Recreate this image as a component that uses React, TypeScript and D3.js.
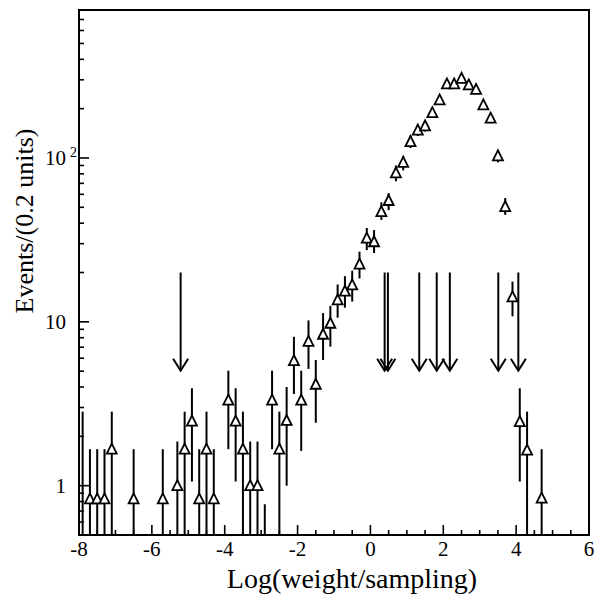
import React from 'react';
import * as d3 from 'd3';

// Bin centers (0.2 unit bins), values, and error-bar ends (data units)
const binCenters = [
  -7.9, -7.7, -7.5, -7.3, -7.1, -6.5, -5.7, -5.3, -5.1, -4.9, -4.7, -4.5, -4.3,
  -3.9, -3.7, -3.5, -3.3, -3.1, -2.9, -2.7, -2.5, -2.3, -2.1, -1.9, -1.7, -1.5,
  -1.3, -1.1, -0.9, -0.7, -0.5, -0.3, -0.1, 0.1, 0.3, 0.5, 0.7, 0.9, 1.1, 1.3,
  1.5, 1.7, 1.9, 2.1, 2.3, 2.5, 2.7, 2.9, 3.1, 3.3, 3.5, 3.7, 3.9, 4.1, 4.3, 4.7,
];
const binValues = [
  0.3, 0.83, 0.83, 0.83, 1.67, 0.83, 0.83, 1.0, 1.67, 2.48, 0.83, 1.67, 0.83,
  3.33, 2.48, 1.67, 1.0, 1.0, 0.3, 3.33, 1.67, 2.5, 5.8, 3.33, 7.6, 4.16,
  8.4, 9.8, 13.6, 15.4, 16.8, 22.5, 32.4, 30.8, 47, 55, 81, 94, 126, 148,
  157, 189, 226, 283, 283, 306, 279, 262, 211, 175, 103, 50.5, 14.2, 2.46, 1.65, 0.84,
];
const binErrHigh = [
  2.83, 1.67, 1.67, 1.67, 2.83, 1.67, 1.67, 1.86, 2.83, 3.93, 1.67, 2.83, 1.67,
  5.03, 3.93, 2.83, 1.86, 1.86, 0.77, 5.03, 2.83, 4.0, 8.1, 5.03, 10.2, 5.85,
  11.3, 12.5, 16.9, 19.0, 20.5, 26.8, 37.4, 36.3, 53.6, 61, 90, 103, 137, 160,
  169, 202, 240, 299, 299, 323, 295, 277, 224, 187, 112, 57, 17.6, 3.93, 2.83, 1.67,
];
const binErrLow = [
  0, 0, 0, 0, 0, 0, 0, 0, 0, 1.06, 0, 0, 0,
  1.67, 1.06, 0, 0, 0, 0, 1.67, 0, 1.0, 3.63, 1.63, 5.16, 2.42,
  5.85, 7.06, 10.6, 12.2, 13.3, 18.4, 27.4, 26.3, 41.9, 48, 72, 84, 115, 136,
  145, 176, 212, 267, 267, 289, 263, 247, 198, 163, 94, 45, 10.8, 1.06, 0, 0,
];

// Vertical downward arrows
const arrowX = [-5.21, 0.39, 0.48, 1.34, 1.82, 2.18, 3.51, 4.06];
const arrowTopValue = 20;
const arrowTipValue = 5.03;

const xTickLabels = [-8, -6, -4, -2, 0, 2, 4, 6];
const xMinorTicks = d3.range(-8, 6.001, 0.5);
const yMajorTicks = [1, 10, 100];
const yMinorTicks = [0.6, 0.7, 0.8, 0.9, 2, 3, 4, 5, 6, 7, 8, 9, 20, 30, 40, 50, 60, 70, 80, 90, 200, 300, 400, 500, 600, 700];

const W = 609;
const H = 597;
const L = 79, R = 589, T = 10, B = 535;
const FONT = '"Liberation Serif", "Times New Roman", serif';

export default function App() {
  const x = d3.scaleLinear().domain([-8, 6]).range([L, R]);
  const y = d3.scaleLog().domain([0.5, 800]).range([B, T]);
  const yc = (v: number) => (v <= 0.5 ? B : Math.max(T, y(v)));

  const triW = 10, triH = 9;

  return (
    <svg width={W} height={H} style={{ position: 'absolute', left: 0, top: 0, background: '#fff' }}>
      <rect x={0} y={0} width={W} height={H} fill="#fff" />
      <defs>
        <clipPath id="plotClip">
          <rect x={L} y={T} width={R - L} height={B - T} />
        </clipPath>
      </defs>

      {/* ticks */}
      {xMinorTicks.map((t, i) => {
        const major = Math.abs(t - Math.round(t / 2) * 2) < 1e-6;
        return (
          <line key={'xt' + i} x1={x(t)} x2={x(t)} y1={B} y2={B - (major ? 10 : 5)} stroke="#000" strokeWidth={1.6} />
        );
      })}
      {yMajorTicks.map((t) => (
        <line key={'ym' + t} x1={L} x2={L + 10} y1={y(t)} y2={y(t)} stroke="#000" strokeWidth={1.6} />
      ))}
      {yMinorTicks.map((t) => (
        <line key={'yn' + t} x1={L} x2={L + 5} y1={y(t)} y2={y(t)} stroke="#000" strokeWidth={1.6} />
      ))}

      <g clipPath="url(#plotClip)">
        {/* error bars */}
        {binCenters.map((c, i) => (
          <line
            key={'e' + i}
            x1={x(c)}
            x2={x(c)}
            y1={yc(binErrHigh[i])}
            y2={binErrLow[i] <= 0 ? B : yc(binErrLow[i])}
            stroke="#000"
            strokeWidth={2}
          />
        ))}
        {/* markers */}
        {binCenters.map((c, i) => {
          const v = binValues[i];
          if (v < 0.5) return null;
          const cx = x(c), cy = y(v);
          const pts = `${cx},${cy - triH / 2 - 1} ${cx - triW / 2},${cy + triH / 2} ${cx + triW / 2},${cy + triH / 2}`;
          return <polygon key={'m' + i} points={pts} fill="#fff" stroke="#000" strokeWidth={1.8} strokeLinejoin="miter" />;
        })}
        {/* arrows */}
        {arrowX.map((a, i) => {
          const ax = x(a);
          const y0 = y(arrowTopValue);
          const y1 = y(arrowTipValue);
          return (
            <g key={'a' + i} stroke="#000" strokeWidth={2} fill="none">
              <line x1={ax} x2={ax} y1={y0} y2={y1} />
              <polyline points={`${ax - 7.5},${y1 - 12} ${ax},${y1} ${ax + 7.5},${y1 - 12}`} />
            </g>
          );
        })}
      </g>

      {/* frame */}
      <rect x={L} y={T} width={R - L} height={B - T} fill="none" stroke="#000" strokeWidth={2} />

      {/* x tick labels */}
      {xTickLabels.map((t) => (
        <text key={'xl' + t} x={x(t)} y={556} textAnchor="middle" fontFamily={FONT} fontSize={21} fill="#000">
          {t}
        </text>
      ))}
      {/* y tick labels */}
      <text x={66} y={y(1) + 7} textAnchor="end" fontFamily={FONT} fontSize={21} fill="#000">1</text>
      <text x={66} y={y(10) + 7} textAnchor="end" fontFamily={FONT} fontSize={21} fill="#000">10</text>
      <text x={66} y={y(100) + 7} textAnchor="end" fontFamily={FONT} fontSize={21} fill="#000">10</text>
      <text x={70} y={y(100) - 1} textAnchor="start" fontFamily={FONT} fontSize={14} fill="#000">2</text>

      {/* axis titles */}
      <text x={352} y={588} textAnchor="middle" fontFamily={FONT} fontSize={28} fill="#000">
        Log(weight/sampling)
      </text>
      <text
        transform={`translate(33, 221) rotate(-90)`}
        textAnchor="middle"
        fontFamily={FONT}
        fontSize={26}
        fill="#000"
      >
        Events/(0.2 units)
      </text>
    </svg>
  );
}
